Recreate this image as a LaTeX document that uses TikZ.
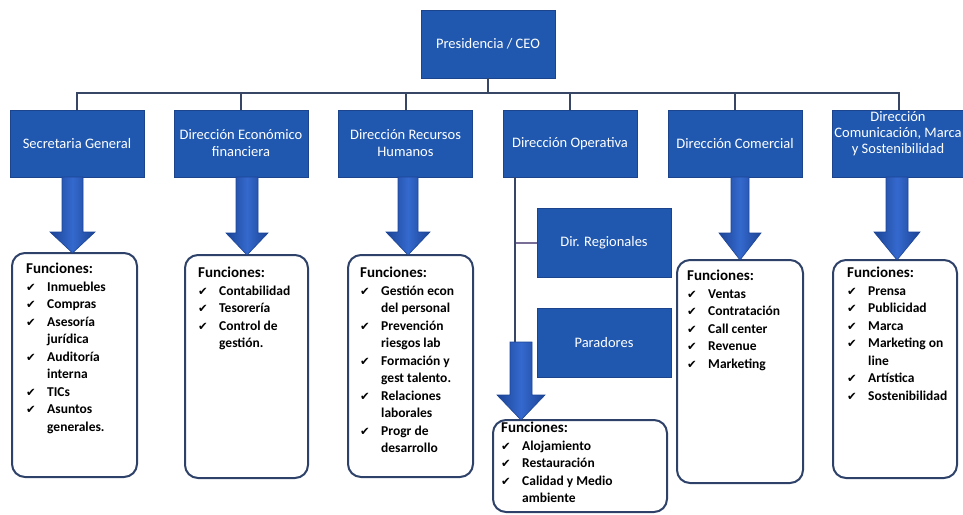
\documentclass[tikz,border=0pt]{standalone}
\usepackage{fontspec}
\setmainfont{Carlito}
\newfontfamily\symf{DejaVu Sans}
\usetikzlibrary{calc}
\definecolor{hb}{RGB}{32,88,176}
\definecolor{hbd}{RGB}{28,68,140}
\definecolor{tree}{RGB}{55,70,100}
\definecolor{fb}{RGB}{45,65,105}
\definecolor{arrA}{RGB}{28,68,150}
\definecolor{arrB}{RGB}{52,105,205}
\definecolor{branch}{RGB}{120,110,150}
\newcommand\itm[1]{\makebox[21pt][l]{\symf\fontsize{11.5}{12}\selectfont ✔}#1}
\newcommand\cnt[1]{\hspace*{21pt}#1}
\newcommand\fun{{\fontsize{15}{17.5}\selectfont Funciones:}}
\newcommand\barrow[6]{%
  \shadedraw[left color=arrA,right color=arrA,middle color=arrB,draw=arrA,line width=.6pt]
  (#1-#5,#2) -- (#1+#5,#2) -- (#1+#5,#3) -- (#1+#6,#3) -- (#1,#4) -- (#1-#6,#3) -- (#1-#5,#3) -- cycle;}
\tikzset{
  hbox/.style={rectangle,fill=hb,draw=hbd,line width=.8pt,text=white,align=center,
    inner sep=0pt,minimum width=134pt,minimum height=67pt,font=\fontsize{14.5}{17}\selectfont},
  fbox/.style={rectangle,rounded corners=13pt,draw=fb,line width=2pt,fill=white,inner sep=0pt},
  ftext/.style={anchor=north west,inner sep=0pt,align=left,text=black,
    font=\bfseries\fontsize{13.5}{17.5}\selectfont},
  treeline/.style={draw=tree,line width=2pt},
}
\begin{document}
\begin{tikzpicture}[x=1pt,y=-1pt]
\useasboundingbox[fill=white] (0,0) rectangle (963,514);

% header boxes
\node[hbox,minimum height=68pt] (pres) at (488,44) {Presidencia / CEO};
\node[hbox] (b1) at (77,143.5) {Secretaria General};
\node[hbox] (b2) at (241,143.5) {Dirección Económico\\financiera};
\node[hbox] (b3) at (405.5,143.5) {Dirección Recursos\\Humanos};
\node[hbox] (b4) at (570,143.5) {Dirección Operativa};
\node[hbox] (b5) at (735,143.5) {Dirección Comercial};
\node[hbox] (b6) at (899,143.5) {};
\node[text=white,align=center,inner sep=0pt,font=\fontsize{14.5}{16}\selectfont] (b6t) at ($(b6.center)+(-1,-10)$) {Dirección\\Comunicación, Marca\\y Sostenibilidad};
\node[hbox,minimum height=69pt] (dirreg) at (604,243) {Dir. Regionales};
\node[hbox,minimum height=69pt] (parad) at (604,342.5) {Paradores};

% tree lines
\coordinate (bus) at ($(pres.south)+(0,15)$);
\draw[treeline] (pres.south) -- (bus);
\draw[treeline] (b1.north) |- (bus) -| (b6.north);
\foreach \b in {b2,b3,b4,b5} \draw[treeline] (bus -| \b.north) -- (\b.north);

% operativa line
\coordinate (op) at ($(b4.south west)+(12,0)$);
\coordinate (opa) at (op |- 0,342);
\coordinate (opb) at (op |- dirreg.west);
\draw[draw=branch,line width=1.2pt] (opb) -- (dirreg.west);
\draw[treeline] (op) -- (opa);

% function boxes
\node[fbox,minimum width=125pt,minimum height=224pt] (f1) at (74.5,365) {};
\node[fbox,minimum width=123pt,minimum height=223pt] (f2) at (246.5,366.5) {};
\node[fbox,minimum width=125pt,minimum height=222pt] (f3) at (410.5,366) {};
\node[fbox,minimum width=174pt,minimum height=92pt] (f4) at (580,466) {};
\node[fbox,minimum width=126pt,minimum height=223pt] (f5) at (740,371.5) {};
\node[fbox,minimum width=124pt,minimum height=218pt] (f6) at (895,369) {};

% block arrows
\barrow{72.5}{177}{232}{253}{10.5}{22.5}
\barrow{247}{177}{233}{255}{11}{21}
\barrow{408}{177}{232}{255}{10}{22}
\barrow{521}{342}{395}{420}{11}{24}
\barrow{740}{177}{233}{260}{9}{21}
\barrow{897}{177}{232}{260}{11}{23}

% texts
\node[ftext] (t1) at ($(f1.north west)+(15,11)$) {\fun\\\itm{Inmuebles}\\\itm{Compras}\\\itm{Asesoría}\\\cnt{jurídica}\\\itm{Auditoría}\\\cnt{interna}\\\itm{TICs}\\\itm{Asuntos}\\\cnt{generales.}};
\node[ftext] (t2) at ($(f2.north west)+(14,13)$) {\fun\\\itm{Contabilidad}\\\itm{Tesorería}\\\itm{Control de}\\\cnt{gestión.}};
\node[ftext] (t3) at ($(f3.north west)+(13,13)$) {\fun\\\itm{Gestión econ}\\\cnt{del personal}\\\itm{Prevención}\\\cnt{riesgos lab}\\\itm{Formación y}\\\cnt{gest talento.}\\\itm{Relaciones}\\\cnt{laborales}\\\itm{Progr de}\\\cnt{desarrollo}};
\node[ftext] (t4) at ($(f4.north west)+(9,3)$) {\fun\\\itm{Alojamiento}\\\itm{Restauración}\\\itm{Calidad y Medio}\\\cnt{ambiente}};
\node[ftext] (t5) at ($(f5.north west)+(11,11)$) {\fun\\\itm{Ventas}\\\itm{Contratación}\\\itm{Call center}\\\itm{Revenue}\\\itm{Marketing}};
\node[ftext] (t6) at ($(f6.north west)+(15,8)$) {\fun\\\itm{Prensa}\\\itm{Publicidad}\\\itm{Marca}\\\itm{Marketing on}\\\cnt{line}\\\itm{Artística}\\\itm{Sostenibilidad}};
\end{tikzpicture}
\end{document}
